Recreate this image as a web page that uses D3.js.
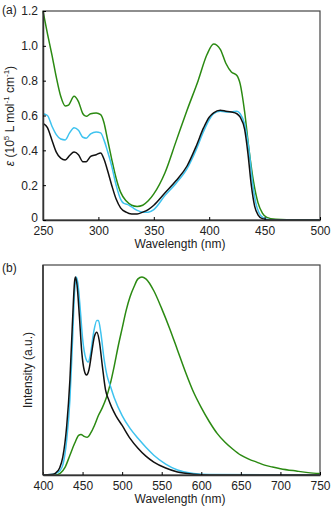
<!DOCTYPE html>
<html>
<head>
<meta charset="utf-8">
<script src="https://cdn.jsdelivr.net/npm/d3@7"></script>
<style>
  body { margin: 0; background: #fff; }
  svg { font-family: "Liberation Sans", Arial, sans-serif; }
</style>
</head>
<body>
<svg width="332" height="507"></svg>
<script>
// absorption (a)
var absBlackWl = [250,254,258,262,266,270,274,278,282,286,289,293,298,302,305,308,312,316,320,325,330,335,340,345,350,360,370,380,388,395,400,404,410,415,420,425,428,432,435,438,441,444,448,455,500];
var absBlack   = [0.555,0.53,0.46,0.39,0.355,0.345,0.37,0.39,0.375,0.335,0.335,0.365,0.375,0.385,0.35,0.29,0.2,0.12,0.07,0.045,0.035,0.035,0.045,0.06,0.085,0.155,0.225,0.31,0.42,0.53,0.59,0.615,0.63,0.625,0.62,0.61,0.59,0.52,0.38,0.2,0.08,0.03,0.008,0,0];
var absCyanWl  = [250,254,258,262,266,270,274,278,282,286,289,293,298,302,305,308,312,316,320,323,326,330,335,340,345,350,360,370,380,388,395,400,404,410,415,420,425,428,432,436,439,442,445,449,455,500];
var absCyan    = [0.61,0.6,0.54,0.49,0.465,0.46,0.5,0.53,0.515,0.475,0.47,0.495,0.505,0.5,0.46,0.4,0.31,0.2,0.12,0.095,0.09,0.075,0.055,0.045,0.045,0.06,0.14,0.21,0.295,0.4,0.51,0.575,0.61,0.625,0.62,0.62,0.625,0.61,0.55,0.4,0.22,0.1,0.04,0.012,0.002,0];
var absGreenWl = [250,254,258,262,266,270,273,278,282,286,289,293,298,302,305,308,312,316,320,325,330,335,340,345,350,360,370,380,390,398,404,410,415,420,425,428,432,436,440,444,448,452,460,470,500];
var absGreen   = [1.2,1.07,0.95,0.82,0.71,0.655,0.66,0.71,0.68,0.61,0.595,0.61,0.615,0.605,0.56,0.47,0.35,0.24,0.16,0.11,0.085,0.078,0.085,0.11,0.15,0.27,0.45,0.63,0.8,0.95,1.01,0.98,0.9,0.85,0.83,0.78,0.62,0.4,0.22,0.1,0.04,0.015,0.004,0.001,0];

// emission (b)
var emBlackWl = [400,410,416,421,425,430,434,437,440,441,443,446,449,452,455,458,462,465,468,471,475,479,483,487,492,500,510,520,530,540,555,570,590,610,750];
var emBlack   = [0,0.002,0.01,0.035,0.09,0.25,0.48,0.75,0.98,1.0,0.96,0.8,0.62,0.53,0.505,0.53,0.63,0.7,0.72,0.68,0.55,0.43,0.38,0.34,0.3,0.25,0.185,0.135,0.095,0.065,0.035,0.015,0.004,0,0];
var emCyanWl  = [400,410,416,421,425,430,434,437,440,442,444,447,450,454,457,460,464,468,470,473,477,481,485,490,500,510,520,530,540,555,570,590,610,750];
var emCyan    = [0,0.002,0.008,0.02,0.05,0.18,0.38,0.65,0.93,1.0,0.97,0.84,0.69,0.59,0.57,0.61,0.72,0.78,0.78,0.72,0.59,0.5,0.45,0.39,0.3,0.235,0.185,0.14,0.1,0.055,0.025,0.008,0.002,0];
var emGreenWl = [400,415,422,428,434,440,445,448,452,456,460,465,470,475,480,485,490,495,500,505,510,515,520,525,530,540,550,560,570,580,590,600,610,620,630,640,650,660,670,680,690,700,720,735,750];
var emGreen   = [0,0,0.01,0.04,0.1,0.16,0.2,0.205,0.195,0.19,0.21,0.25,0.3,0.34,0.39,0.46,0.55,0.65,0.74,0.83,0.9,0.95,0.99,1.0,0.99,0.93,0.84,0.74,0.63,0.52,0.42,0.34,0.27,0.21,0.165,0.13,0.1,0.08,0.065,0.05,0.04,0.032,0.02,0.012,0.007];

var absTicksX = [250,300,350,400,450,500];
var absTicksY = [0,0.2,0.4,0.6,0.8,1.0,1.2];
var emTicksX = [400,450,500,550,600,650,700,750];

var colBlack = "#111111", colCyan = "#3ec3ef", colGreen = "#2b8a12";

var svg = d3.select("svg");
var left = 43, right = 320;

function zip(xs, ys) { return xs.map((d, i) => [d, ys[i]]); }

function panel(opt) {
  var x = d3.scaleLinear().domain(opt.xdom).range([left, right]);
  var y = d3.scaleLinear().domain(opt.ydom).range([opt.bottom, opt.top]);
  var g = svg.append("g");

  var line = d3.line().x(d => x(d[0])).y(d => y(d[1])).curve(d3.curveMonotoneX);
  opt.series.forEach(s => {
    g.append("path")
      .datum(zip(s.wl, s.v))
      .attr("fill", "none")
      .attr("stroke", s.color)
      .attr("stroke-width", 1.5)
      .attr("stroke-linejoin", "round")
      .attr("d", line);
  });

  // frame
  g.append("rect")
    .attr("x", left).attr("y", opt.top)
    .attr("width", right - left).attr("height", opt.bottom - opt.top)
    .attr("fill", "none").attr("stroke", "#444").attr("stroke-width", 1.2);

  var xa = g.append("g")
    .attr("transform", `translate(0,${opt.bottom})`)
    .call(d3.axisBottom(x).tickValues(opt.xticks).tickFormat(d3.format("d")).tickSizeInner(-3).tickSizeOuter(0).tickPadding(6));
  xa.select(".domain").attr("stroke", "#333").attr("stroke-width", 1.5);
  xa.selectAll("text").attr("font-size", 12).attr("fill", "#222");

  if (opt.yticks) {
    var ya = g.append("g")
      .attr("transform", `translate(${left},0)`)
      .call(d3.axisLeft(y).tickValues(opt.yticks).tickFormat(d => d === 0 ? "0" : d3.format(".1f")(d)).tickSizeInner(-3).tickSizeOuter(0).tickPadding(5));
    ya.selectAll("text").attr("font-size", 12).attr("fill", "#222")
      .attr("dy", d => d === 0 ? "0.1em" : "0.32em");
    ya.select(".domain").attr("stroke", "#333").attr("stroke-width", 1.5);
  } else {
    g.append("line").attr("x1", left).attr("x2", left)
      .attr("y1", opt.top).attr("y2", opt.bottom)
      .attr("stroke", "#333").attr("stroke-width", 1.5);
  }

  g.append("text")
    .attr("x", 180).attr("y", opt.bottom + 27.5)
    .attr("text-anchor", "middle").attr("font-size", 12).attr("fill", "#222")
    .text("Wavelength (nm)");

  g.append("text")
    .attr("x", 2).attr("y", opt.labelY)
    .attr("font-size", 12).attr("fill", "#222")
    .text(opt.tag);
  return g;
}

var ga = panel({
  xdom: [250, 500], ydom: [0, 1.2], top: 11, bottom: 220,
  xticks: absTicksX, yticks: absTicksY, tag: "(a)", labelY: 14,
  series: [
    {wl: absGreenWl, v: absGreen, color: colGreen},
    {wl: absCyanWl, v: absCyan, color: colCyan},
    {wl: absBlackWl, v: absBlack, color: colBlack}
  ]
});

var yl = ga.append("text")
  .attr("transform", "translate(14,116) rotate(-90)")
  .attr("text-anchor", "middle").attr("font-size", 12).attr("fill", "#222");
yl.append("tspan").attr("font-style", "italic").text("ε");
yl.append("tspan").text(" (10");
yl.append("tspan").attr("font-size", 8).attr("dy", -5).text("5");
yl.append("tspan").attr("dy", 5).text(" L mol");
yl.append("tspan").attr("font-size", 8).attr("dy", -5).text("-1");
yl.append("tspan").attr("dy", 5).text(" cm");
yl.append("tspan").attr("font-size", 8).attr("dy", -5).text("-1");
yl.append("tspan").attr("dy", 5).text(")");

var gb = panel({
  xdom: [400, 750], ydom: [0, 1.06], top: 265, bottom: 475,
  xticks: emTicksX, yticks: null, tag: "(b)", labelY: 272,
  series: [
    {wl: emGreenWl, v: emGreen, color: colGreen},
    {wl: emCyanWl, v: emCyan, color: colCyan},
    {wl: emBlackWl, v: emBlack, color: colBlack}
  ]
});

gb.append("text")
  .attr("transform", "translate(32,370) rotate(-90)")
  .attr("text-anchor", "middle").attr("font-size", 12).attr("fill", "#222")
  .text("Intensity (a.u.)");
</script>
</body>
</html>
